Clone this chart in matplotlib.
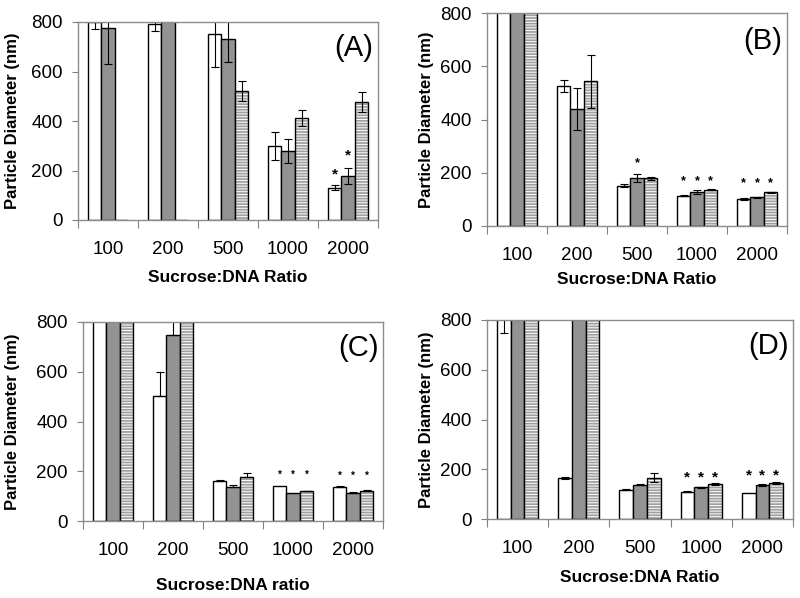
import numpy as np
import matplotlib
matplotlib.use("Agg")
import matplotlib.pyplot as plt

plt.rcParams["font.family"] = ["Liberation Sans", "DejaVu Sans"]
plt.rcParams["hatch.linewidth"] = 1.3

ratios = ["100", "200", "500", "1000", "2000"]
y_ticks = [0, 200, 400, 600, 800]
panel_names = ["(A)", "(B)", "(C)", "(D)"]
x_titles = ["Sucrose:DNA Ratio", "Sucrose:DNA Ratio", "Sucrose:DNA ratio", "Sucrose:DNA Ratio"]
y_title = "Particle Diameter (nm)"

# values above 800 run off the top of the axis in the original
a_white = [800, 791, 750, 299, 131]
a_white_err = [27, 29, 132, 58, 9]
a_gray = [776, 830, 733, 279, 178]
a_gray_err = [147, 0, 95, 50, 32]
a_hatch = [0, 0, 520, 412, 477]
a_hatch_err = [0, 0, 40, 31, 40]
a_stars = [[None, None, None, None, 183], [None, None, None, None, 259], [None] * 5]

b_white = [850, 525, 151, 114, 102]
b_white_err = [0, 22, 5, 3, 3]
b_gray = [850, 440, 180, 127, 108]
b_gray_err = [0, 78, 14, 8, 2]
b_hatch = [850, 543, 179, 137, 127]
b_hatch_err = [0, 100, 5, 3, 2]
b_stars = [[None, None, None, 170, 162], [None, None, 236, 170, 162], [None, None, None, 170, 162]]

c_white = [850, 501, 161, 140, 137]
c_white_err = [0, 100, 2, 0, 2]
c_gray = [850, 749, 137, 111, 113]
c_gray_err = [0, 80, 6, 0, 2]
c_hatch = [850, 850, 176, 120, 120]
c_hatch_err = [0, 0, 16, 2, 3]
c_stars = [[None, None, None, 185, 183]] * 3

d_white = [850, 165, 117, 110, 103]
d_white_err = [104, 5, 2, 2, 0]
d_gray = [850, 850, 138, 127, 137]
d_gray_err = [0, 0, 2, 2, 3]
d_hatch = [850, 850, 166, 141, 145]
d_hatch_err = [0, 0, 19, 3, 3]
d_stars = [[None, None, None, 166, 177]] * 3

panels = [
    (a_white, a_white_err, a_gray, a_gray_err, a_hatch, a_hatch_err, a_stars),
    (b_white, b_white_err, b_gray, b_gray_err, b_hatch, b_hatch_err, b_stars),
    (c_white, c_white_err, c_gray, c_gray_err, c_hatch, c_hatch_err, c_stars),
    (d_white, d_white_err, d_gray, d_gray_err, d_hatch, d_hatch_err, d_stars),
]

# layout in pixels: left, top, right, bottom of each plot area
W, H = 800, 598
boxes = [(78, 22, 378, 220), (487, 13, 787, 226), (83, 322, 383, 521), (487, 320, 793, 519)]
xlabel_y = [278, 279, 585, 578]
ylabel_x = [13, 427, 13, 427]
upper_only = [False, False, True, False]
star_size = [11, 9, 7, 11]

fig = plt.figure(figsize=(W / 100, H / 100), dpi=100)

bw = 0.225
x = np.arange(len(ratios))
for k, (white, w_err, gray, g_err, hatch, h_err, stars) in enumerate(panels):
    l, t, r, b = boxes[k]
    ax = fig.add_axes([l / W, (H - b) / H, (r - l) / W, (b - t) / H])

    ax.bar(x - bw, white, bw, color="white", edgecolor="black", linewidth=1)
    ax.bar(x, gray, bw, color="#939393", edgecolor="black", linewidth=1)
    ax.bar(x + bw, hatch, bw, color="white", edgecolor="#a0a0a0", hatch="------", linewidth=0)
    ax.bar(x + bw, hatch, bw, fill=False, edgecolor="black", linewidth=1)

    for off, vals, errs in [(-bw, white, w_err), (0, gray, g_err), (bw, hatch, h_err)]:
        idx = [i for i in range(len(vals)) if errs[i] > 0]
        if not idx:
            continue
        e = np.array([errs[i] for i in idx])
        yerr = [np.zeros_like(e), e] if upper_only[k] else e
        ax.errorbar(x[idx] + off, [vals[i] for i in idx], yerr=yerr, fmt="none",
                    ecolor="black", elinewidth=0.8, capsize=3, capthick=0.8)

    for off, row in zip([-bw, 0, bw], stars):
        for i, s in enumerate(row):
            if s is not None:
                ax.text(x[i] + off, s, "*", ha="center", va="center",
                        fontsize=star_size[k], fontweight="bold")

    ax.set_xlim(-0.5, len(ratios) - 0.5)
    ax.set_ylim(0, 800)
    ax.set_yticks(y_ticks)
    ax.tick_params(axis="y", labelsize=13.5, length=4, color="#808080", pad=7)
    ax.set_xticks(np.arange(len(ratios) + 1) - 0.5)
    ax.set_xticklabels([])
    ax.tick_params(axis="x", which="major", length=6, color="#808080")
    ax.set_xticks(x, minor=True)
    ax.set_xticklabels(ratios, minor=True)
    ax.tick_params(axis="x", which="minor", length=0, labelsize=13.5, pad=15)
    for sp in ax.spines.values():
        sp.set_color("#8c8c8c")
        sp.set_linewidth(1)

    fig.text((l + r) / 2 / W, 1 - xlabel_y[k] / H, x_titles[k], ha="center", va="center",
             fontsize=12.5, fontweight="bold")
    fig.text(ylabel_x[k] / W, 1 - (t + b) / 2 / H, y_title, ha="center", va="center",
             rotation=90, fontsize=12, fontweight="bold")

    ax.text(0.985, 0.87, panel_names[k], transform=ax.transAxes, ha="right",
            va="center", fontsize=21)

fig.savefig("out.png", dpi=100)
